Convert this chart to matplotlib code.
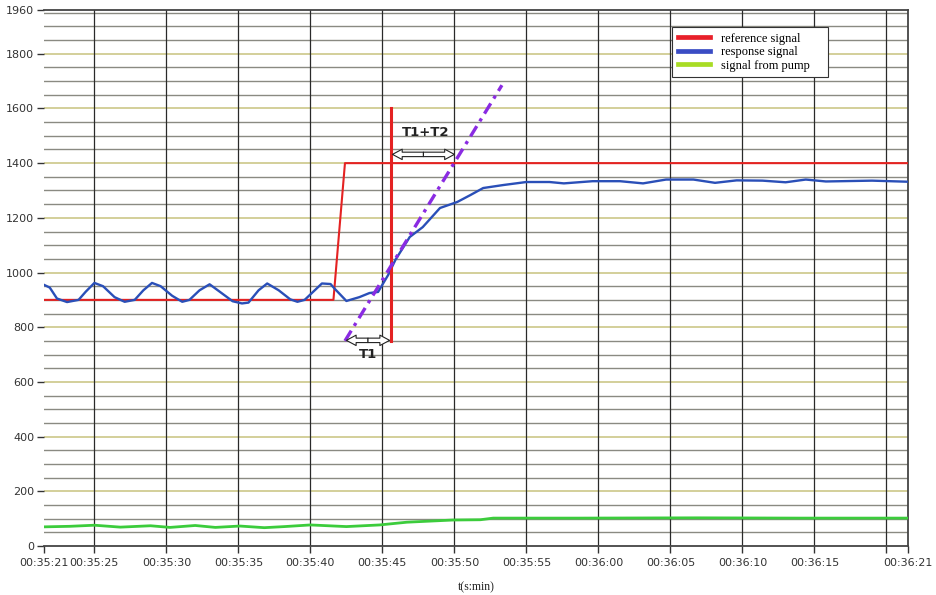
import matplotlib
matplotlib.use("Agg")
import matplotlib.pyplot as plt
from matplotlib.lines import Line2D
import numpy as np

# ---- data (time in seconds after 00:35:00) ----
ref_t = [21.5, 41.6, 42.4, 81.5]
ref_v = [900, 900, 1400, 1400]

marker_t = [45.58, 45.58]
marker_v = [750, 1600]

tangent_t = [42.4, 53.3]
tangent_v = [750, 1685]

resp_t = [21.5, 21.9, 22.4, 23.1, 23.9, 24.4, 25.0, 25.6, 26.4, 27.1, 27.8, 28.4,
          29.0, 29.6, 30.4, 31.1, 31.6, 32.3, 33.0, 33.7, 34.6, 35.25, 35.7, 36.4,
          37.0, 37.8, 38.6, 39.1, 39.6, 40.4, 40.8, 41.4, 41.7, 42.5, 43.4, 44.1,
          44.7, 45.4, 45.9, 46.9, 47.8, 49.0, 50.2, 51.1, 52.0, 53.4, 55.0, 56.6,
          57.6, 59.6, 61.5, 63.1, 64.7, 66.6, 68.1, 69.6, 71.4, 73.0, 74.4, 75.8,
          79.0, 81.5]
resp_v = [955, 945, 905, 892, 900, 930, 962, 950, 910, 893, 900, 935,
          962, 950, 915, 893, 900, 935, 957, 930, 895, 887, 890, 935,
          960, 935, 902, 893, 900, 940, 960, 958, 940, 896, 910, 925,
          929, 991, 1046, 1130, 1166, 1236, 1258, 1283, 1309, 1320, 1331, 1331,
          1326, 1334, 1334, 1326, 1340, 1340, 1328, 1337, 1336, 1330, 1340, 1333,
          1336, 1332]

pump_t = [21.5, 23.3, 25.0, 26.8, 28.9, 30.25, 32.0, 33.4, 35.1, 36.8, 38.2, 40.0,
          42.5, 44.8, 46.7, 49.9, 51.8, 52.7, 58.7, 66.9, 73.9, 81.5]
pump_v = [70, 72, 76, 69, 74, 68, 75, 68, 73, 67, 71, 77,
          71, 77, 87, 95, 96, 102, 102, 103, 102, 102]

tick_secs = [21.5, 25, 30, 35, 40, 45, 50, 55, 60, 65, 70, 75, 80, 81.5]
tick_labels = ["00:35:21", "00:35:25", "00:35:30", "00:35:35", "00:35:40", "00:35:45",
               "00:35:50", "00:35:55", "00:36:00", "00:36:05", "00:36:10", "00:36:15",
               "", "00:36:21"]
y_ticks = [0, 200, 400, 600, 800, 1000, 1200, 1400, 1600, 1800, 1960]
legend_labels = ["reference signal", "response signal", "signal from pump"]

# interval arrows: (start, end, level)
t1_span = (42.5, 45.5, 752)
t12_span = (45.7, 50.0, 1432)

# ---- figure ----
fig = plt.figure(figsize=(9.36, 5.95), dpi=100)
ax = fig.add_axes([44 / 936, 1 - 546 / 595, (908 - 44) / 936, (546 - 10) / 595])
ax.set_xlim(21.5, 81.5)
ax.set_ylim(0, 1960)

# grid
for v in range(50, 1960, 50):
    if v % 200 == 0:
        ax.axhline(v, color="#c8c27e", lw=1.1, zorder=1)
    else:
        ax.axhline(v, color="#8a8a82", lw=1.0, zorder=1)
for s in tick_secs[1:-1]:
    ax.axvline(s, color="#2a2a2a", lw=0.9, zorder=1)

ax.plot(pump_t, pump_v, color="#3ccc3c", lw=2.0, zorder=3)
ax.plot(ref_t, ref_v, color="#e42222", lw=1.5, zorder=3)
ax.plot(resp_t, resp_v, color="#2a4fb8", lw=1.7, zorder=4)
ax.plot(marker_t, marker_v, color="#e42222", lw=2.2, zorder=4)
ax.plot(tangent_t, tangent_v, color="#8a2be2", lw=2.4, zorder=5,
        linestyle=(0, (3.6, 1.7, 1.0, 1.7)), dash_capstyle="butt")

# fat hollow double arrows (two simple arrows from the middle outward)
arr = dict(arrowstyle="simple,head_length=0.7,head_width=0.75,tail_width=0.32",
           fc="white", ec="#222222", lw=0.8, shrinkA=0, shrinkB=0)
for a, b, lev in (t1_span, t12_span):
    mid = (a + b) / 2
    ax.annotate("", xy=(a, lev), xytext=(mid, lev), arrowprops=arr, zorder=6)
    ax.annotate("", xy=(b, lev), xytext=(mid, lev), arrowprops=arr, zorder=6)

ax.text(44.0, 700, "T1", fontsize=9.5, fontweight="bold", ha="center", va="center",
        color="#222222", zorder=7)
ax.text(48.0, 1512, "T1+T2", fontsize=9.5, fontweight="bold", ha="center", va="center",
        color="#222222", zorder=7)

# spines / ticks
ax.spines["left"].set_visible(False)
for side in ("top", "right", "bottom"):
    ax.spines[side].set_color("#444444")
    ax.spines[side].set_linewidth(1.3)
ax.set_xticks(tick_secs)
ax.set_xticklabels(tick_labels)
ax.set_yticks(y_ticks)
ax.set_yticklabels([str(v) for v in y_ticks])
ax.tick_params(axis="both", labelsize=8, colors="#333333", length=5, width=1)
ax.tick_params(axis="y", pad=2)
ax.set_xlabel("t(s:min)", fontsize=8.5, family="Liberation Serif", color="#222222",
              labelpad=10)

handles = [Line2D([], [], color="#e8202a", lw=3.4),
           Line2D([], [], color="#3a4cc4", lw=3.4),
           Line2D([], [], color="#a8dc24", lw=3.4)]
leg = ax.legend(handles, legend_labels, loc="upper left",
                bbox_to_anchor=((672 - 44) / 864, 0.868, 156 / 864, 0.1), mode="expand",
                prop={"family": "Liberation Serif", "size": 9}, frameon=True, fancybox=False,
                edgecolor="#333333", framealpha=1, handlelength=2.6, labelspacing=0.12,
                borderpad=0.45, handletextpad=0.9, borderaxespad=0)
leg.get_frame().set_linewidth(0.8)
leg.set_zorder(10)

fig.savefig("out.png", dpi=100)
